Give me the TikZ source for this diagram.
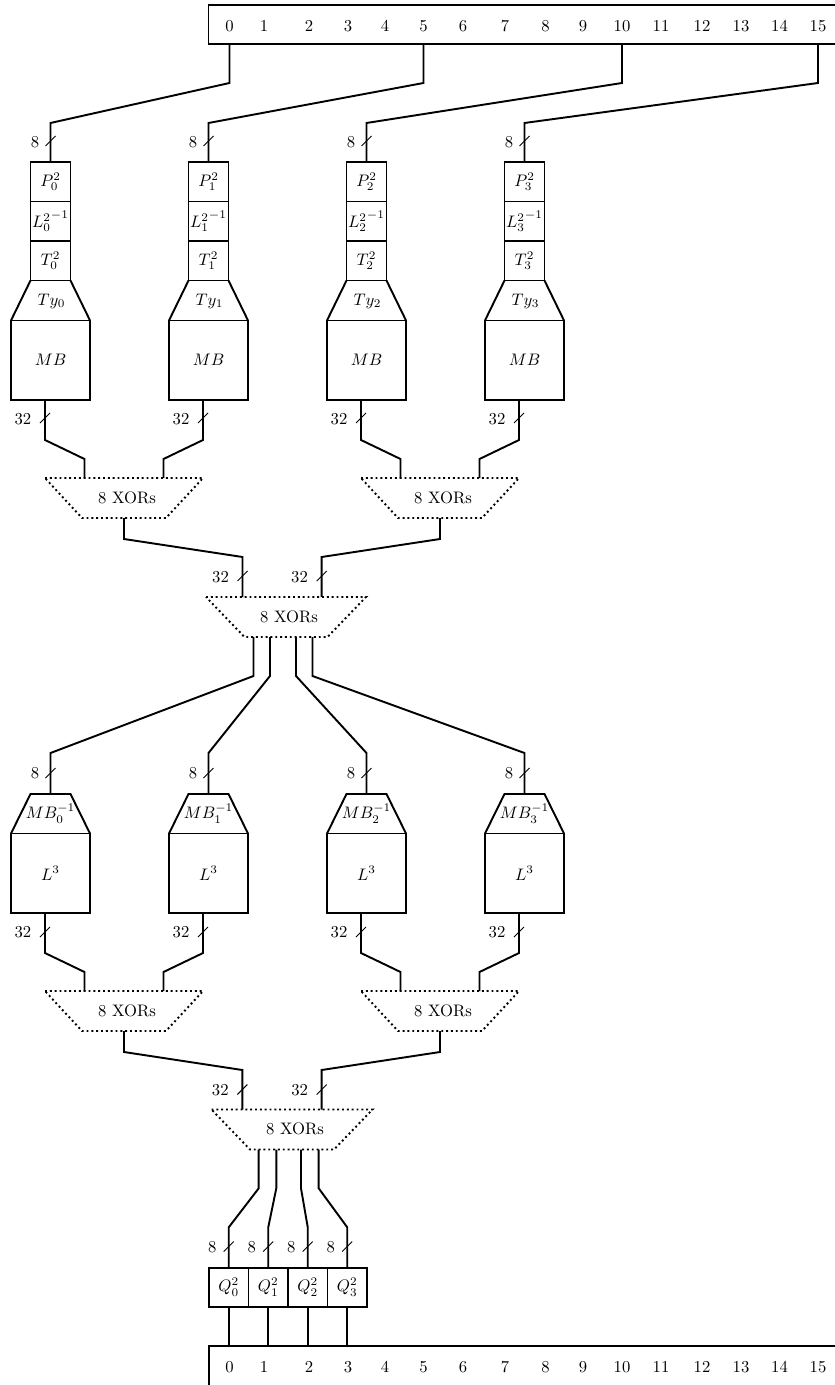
\documentclass[tikz,border=0pt]{standalone}
\usetikzlibrary{calc}
\newcommand\xorgate[5]{%
  \draw[xorline] (#2-#4,#3) -- (#2+#4,#3) -- (#2+#5,#3+40) -- (#2-#5,#3+40) -- cycle;
  \node[lbl] (#1) at (#2+3,#3+19.5) {8 XORs};
}
\begin{document}
\begin{tikzpicture}[x=0.6pt,y=-0.6pt,
  wire/.style={line width=1.15pt,line join=miter},
  sbox/.style={draw,line width=1.15pt,minimum width=24pt,minimum height=23.7pt,inner sep=0pt,outer sep=0pt},
  bbox/.style={draw,line width=1.15pt,minimum width=47.4pt,minimum height=47.7pt,inner sep=0pt,outer sep=0pt},
  bar/.style={draw,line width=1.15pt,anchor=north west,minimum width=400pt,minimum height=23.4pt,inner sep=0pt,outer sep=0pt},
  xorline/.style={line width=1.15pt,dash pattern=on 1.15pt off 1.75pt},
  lbl/.style={inner sep=0pt,outer sep=0pt},
  tick/.style={line width=0.6pt}]
\clip (0,0) rectangle (835,1385);

% bars
\node[bar] (topbar) at (208.5,5) {};
\node[bar,minimum height=27pt] (botbar) at (209,1346) {};
\foreach \n/\x in {0/229.5,1/264,2/309,3/348,4/385,5/423.5,6/463,7/505,8/545.5,9/583,10/622,11/661,12/702,13/741,14/779.5,15/818} {
  \node[lbl] (t\n) at (\x,26) {\n};
  \node[lbl] (b\n) at (\x,1367) {\n};
}

% upper columns
\foreach \i/\s in {0/0,1/5,2/10,3/15} {
  \pgfmathsetmacro\cx{50.5+158*\i}
  \node[sbox] (P\i) at (\cx,181.75) {$P^2_{\i}$};
  \node[sbox] (L\i) at (\cx,221.25) {${L^2_{\i}}^{-1}$};
  \node[sbox] (T\i) at (\cx,260.75) {$T^2_{\i}$};
  \node[bbox] (MB\i) at (\cx,360.25) {$MB$};
  \node[lbl] (Ty\i) at (\cx+1,301) {$Ty_{\i}$};
  \draw[wire] (T\i.south west) -- (MB\i.north west);
  \draw[wire] (T\i.south east) -- (MB\i.north east);
  \draw[wire] (t\s |- topbar.south) -- ++(0,39) -- ($(P\i.north)+(0,-39)$) -- (P\i.north);
  \draw[tick] (\cx-5,146) -- (\cx+5,136);
  \node[lbl] (na\i) at (\cx-15.5,142) {8};
  \draw[tick] (\cx-10.5,423) -- (\cx-0.5,413);
  \node[lbl] (nb\i) at (\cx-27.5,419) {32};
}

% XOR gates
\xorgate{xa}{124}{478}{79}{42}
\xorgate{xb}{440}{478}{79}{42}
\xorgate{xc}{286}{597}{80}{41.5}
\xorgate{xd}{124}{991}{79}{42}
\xorgate{xe}{440}{991}{79}{42}
\xorgate{xf}{292}{1109.5}{80.5}{42}

\coordinate (xa1) at (84.5,478);  \coordinate (xa2) at (163.5,478); \coordinate (xao) at (124,518);
\coordinate (xb1) at (400.5,478); \coordinate (xb2) at (479.5,478); \coordinate (xbo) at (440,518);
\coordinate (xc1) at (242.5,597); \coordinate (xc2) at (321.7,597);
\coordinate (xco0) at (253.5,637); \coordinate (xco1) at (270,637); \coordinate (xco2) at (296,637); \coordinate (xco3) at (312.5,637);
\coordinate (xd1) at (84.5,991);  \coordinate (xd2) at (163.5,991); \coordinate (xdo) at (124,1031);
\coordinate (xe1) at (400.5,991); \coordinate (xe2) at (479.5,991); \coordinate (xeo) at (440,1031);
\coordinate (xf1) at (242.3,1109.5); \coordinate (xf2) at (321.7,1109.5);
\coordinate (xfo0) at (258.7,1149.5); \coordinate (xfo1) at (276.3,1149.5); \coordinate (xfo2) at (301,1149.5); \coordinate (xfo3) at (318.7,1149.5);

% MB -> first XORs
\draw[wire] ($(MB0.south)+(-5.5,0)$) -- ++(0,40) -- ($(xa1)+(0,-19)$) -- (xa1);
\draw[wire] ($(MB1.south)+(-5.5,0)$) -- ++(0,40) -- ($(xa2)+(0,-19)$) -- (xa2);
\draw[wire] ($(MB2.south)+(-5.5,0)$) -- ++(0,40) -- ($(xb1)+(0,-19)$) -- (xb1);
\draw[wire] ($(MB3.south)+(-5.5,0)$) -- ++(0,40) -- ($(xb2)+(0,-19)$) -- (xb2);

% first XORs -> central
\draw[wire] (xao) -- ++(0,21) -- ($(xc1)+(0,-40)$) -- (xc1);
\draw[wire] (xbo) -- ++(0,21) -- ($(xc2)+(0,-40)$) -- (xc2);
\draw[tick] (237.5,581) -- (247.5,571);
\node[lbl] (nc1) at (220.5,577) {32};
\draw[tick] (316.7,581) -- (326.7,571);
\node[lbl] (nc2) at (299.5,577) {32};

% lower columns
\foreach \i in {0,1,2,3} {
  \pgfmathsetmacro\cx{50.5+158*\i}
  \node[bbox] (Lt\i) at (\cx,873.25) {$L^3$};
  \node[lbl] (Mi\i) at (\cx,813.5) {$MB^{-1}_{\i}$};
  \coordinate (mt\i) at (\cx,794);
  \draw[wire] (Lt\i.north west) -- ++(19.5,-39.5) -- ++(40,0) -- (Lt\i.north east);
  \draw[wire] (xco\i) -- ++(0,39) -- ($(mt\i)+(0,-41)$) -- (mt\i);
  \draw[tick] (\cx-5,778) -- (\cx+5,768);
  \node[lbl] (nd\i) at (\cx-15.5,773) {8};
  \draw[tick] (\cx-10.5,937) -- (\cx-0.5,927);
  \node[lbl] (ne\i) at (\cx-27.5,932) {32};
}

% L3 -> lower XORs
\draw[wire] ($(Lt0.south)+(-5.5,0)$) -- ++(0,40) -- ($(xd1)+(0,-19)$) -- (xd1);
\draw[wire] ($(Lt1.south)+(-5.5,0)$) -- ++(0,40) -- ($(xd2)+(0,-19)$) -- (xd2);
\draw[wire] ($(Lt2.south)+(-5.5,0)$) -- ++(0,40) -- ($(xe1)+(0,-19)$) -- (xe1);
\draw[wire] ($(Lt3.south)+(-5.5,0)$) -- ++(0,40) -- ($(xe2)+(0,-19)$) -- (xe2);

% lower XORs -> final
\draw[wire] (xdo) -- ++(0,21) -- ($(xf1)+(0,-39.5)$) -- (xf1);
\draw[wire] (xeo) -- ++(0,21) -- ($(xf2)+(0,-39.5)$) -- (xf2);
\draw[tick] (237.3,1094.5) -- (247.3,1084.5);
\node[lbl] (nf1) at (220.3,1090) {32};
\draw[tick] (316.7,1094.5) -- (326.7,1084.5);
\node[lbl] (nf2) at (299.7,1090) {32};

% Q boxes
\foreach \k/\x in {0/228.75,1/268.25,2/307.75,3/347.25} {
  \node[sbox,minimum width=23.7pt,minimum height=23.4pt] (Q\k) at (\x,1287.2) {$Q^2_{\k}$};
  \draw[wire] (xfo\k) -- ++(0,38.8) -- ($(Q\k.north)+(0,-40.4)$) -- (Q\k.north);
  \draw[wire] (Q\k.south) -- (Q\k.south |- botbar.north);
  \draw[tick] (\x-5,1251.5) -- (\x+5,1241.5);
  \node[lbl] (ng\k) at (\x-16.5,1246.7) {8};
}
\end{tikzpicture}
\end{document}
